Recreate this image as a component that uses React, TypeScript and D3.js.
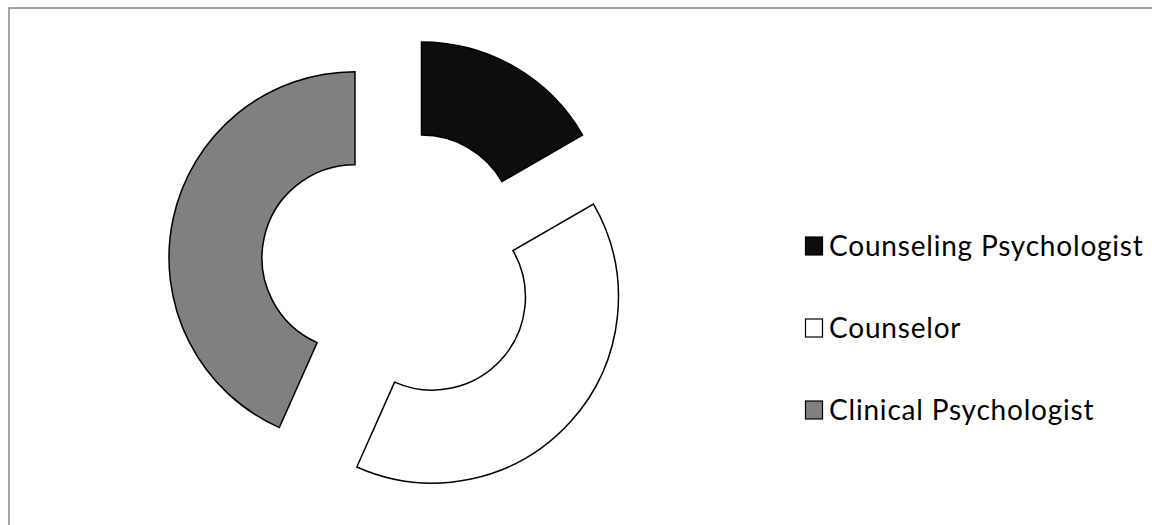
import React from "react";
import * as d3 from "d3";

const categories = ["Counseling Psychologist", "Counselor", "Clinical Psychologist"];
const values = [5, 12, 13];
const fills = ["#0d0d0d", "#ffffff", "#808080"];

const W = 1152;
const H = 525;
const cx = 399;
const cy = 267;
const outerR = 186;
const innerR = 93;
const explode = 45;

export default function App() {
  const pie = d3.pie<number>().sort(null).value((d) => d)(values);
  const arc = d3.arc<d3.PieArcDatum<number>>().innerRadius(innerR).outerRadius(outerR);
  const legendY = d3.scalePoint<string>().domain(categories).range([246, 410]);
  return (
    <svg
      width={W}
      height={H}
      style={{ position: "absolute", left: 0, top: 0, display: "block", background: "#fff" }}
    >
      <rect x={9} y={8} width={W + 20} height={H + 20} fill="#fff" stroke="#888" strokeWidth={1.5} />
      <g transform={`translate(${cx},${cy})`}>
        {pie.map((p, i) => {
          const mid = (p.startAngle + p.endAngle) / 2;
          const dx = Math.sin(mid) * explode;
          const dy = -Math.cos(mid) * explode;
          return (
            <path
              key={i}
              d={arc(p) || ""}
              transform={`translate(${dx},${dy})`}
              fill={fills[i]}
              stroke="#000"
              strokeWidth={1.5}
              strokeLinejoin="miter"
            />
          );
        })}
      </g>
      <g fontFamily="Lato, 'Open Sans', sans-serif" fontSize={28} fill="#000" letterSpacing={0.8}>
        {categories.map((c, i) => {
          const y = legendY(c) as number;
          return (
            <g key={c}>
              <rect x={805.5} y={y - 9} width={17} height={18} fill={fills[i]} stroke="#000" strokeWidth={1.2} />
              <text x={829} y={y + 9.5}>
                {c}
              </text>
            </g>
          );
        })}
      </g>
    </svg>
  );
}
